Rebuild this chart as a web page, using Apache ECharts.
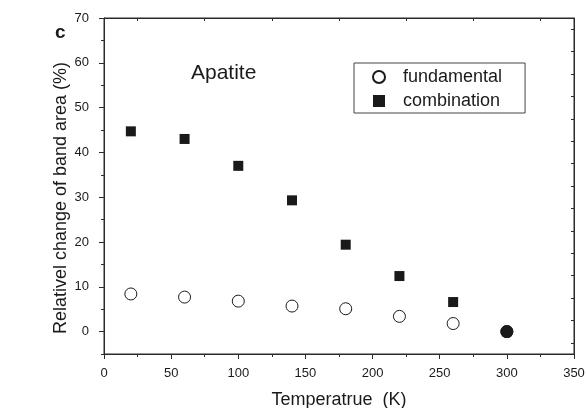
<!DOCTYPE html>
<html>
<head>
<meta charset="utf-8">
<script src="https://cdn.jsdelivr.net/npm/echarts@6/dist/echarts.min.js"></script>
<style>html,body{margin:0;padding:0;background:#fff}#c{width:586px;height:408px}</style>
</head>
<body>
<div id="c"></div>
<script>
var temperatures = [20, 60, 100, 140, 180, 220, 260, 300];
var fundamental = [8.4, 7.7, 6.8, 5.7, 5.1, 3.4, 1.8, 0];
var combination = [44.7, 43.0, 37.0, 29.3, 19.4, 12.4, 6.6, 0];
var yLabels = [0, 10, 20, 30, 40, 50, 60, 70];
var yMinor = [-5, 5, 15, 25, 35, 45, 55, 65];
var yRight = [-2.5, 2.5, 7.5, 12.5, 17.5, 22.5, 27.5, 32.5, 37.5, 42.5, 47.5, 52.5, 57.5, 62.5, 67.5];
var xTop = [25, 75, 125, 175, 225, 275, 325];

var ink = '#1a1a1a';
var axisCol = '#2a2a2a';
var font = 'Liberation Sans, Arial, sans-serif';

var chart = echarts.init(document.getElementById('c'));
chart.setOption({
  animation: false,
  backgroundColor: '#fff',
  textStyle: {fontFamily: font, color: ink},
  grid: {left: 104, right: 12, top: 18, bottom: 54, outerBoundsMode: 'none', containLabel: false,
         show: true, borderColor: axisCol, borderWidth: 1, backgroundColor: 'transparent'},
  graphic: [
    {type: 'text', left: 55, top: 23, style: {text: 'c', font: 'bold 19px ' + font, fill: ink}},
    {type: 'text', left: 191, top: 63, style: {text: 'Apatite', font: '21px ' + font, fill: ink}}
  ],
  legend: {
    orient: 'vertical', left: 354, top: 63,
    padding: [5, 23, 3, 18], itemGap: 6, itemWidth: 12, itemHeight: 12,
    borderColor: '#444', borderWidth: 1,
    textStyle: {fontSize: 18, fontFamily: font, color: ink, padding: [0, 0, 0, 13]},
    data: [
      {name: 'fundamental', icon: 'circle'},
      {name: 'combination', icon: 'rect'}
    ]
  },
  xAxis: [
    {
      type: 'value', position: 'bottom', min: 0, max: 350, interval: 50,
      name: 'Temperatrue  (K)', nameLocation: 'middle', nameGap: 37, nameMoveOverlap: false,
      nameTextStyle: {fontSize: 18, color: ink, fontFamily: font},
      axisLine: {show: true, onZero: false, lineStyle: {color: axisCol, width: 1}},
      axisTick: {show: true, length: 5, lineStyle: {color: axisCol}},
      minorTick: {show: true, splitNumber: 2, length: 3, lineStyle: {color: axisCol}},
      axisLabel: {fontSize: 13, color: ink, margin: 13, fontFamily: font},
      splitLine: {show: false}, minorSplitLine: {show: false}
    },
    {
      type: 'value', position: 'top', min: 0, max: 350, interval: 25,
      axisLine: {show: true, onZero: false, lineStyle: {color: axisCol, width: 1}},
      axisTick: {show: true, inside: true, length: 3, customValues: xTop, lineStyle: {color: axisCol}},
      axisLabel: {show: false}, splitLine: {show: false}
    }
  ],
  yAxis: [
    {
      type: 'value', position: 'left', min: -5, max: 70,
      name: 'Relativel change of band area (%)', nameLocation: 'middle', nameGap: 34, nameMoveOverlap: false,
      nameTextStyle: {fontSize: 18, color: ink, fontFamily: font, padding: [0, 24, 0, 0]},
      axisLine: {show: true, onZero: false, lineStyle: {color: axisCol, width: 1}},
      axisTick: {show: true, length: 5, customValues: yLabels, lineStyle: {color: axisCol}},
      axisLabel: {fontSize: 13, color: ink, margin: 15, customValues: yLabels, fontFamily: font},
      splitLine: {show: false}
    },
    {
      type: 'value', position: 'right', min: -5, max: 70, interval: 2.5,
      axisLine: {show: true, onZero: false, lineStyle: {color: axisCol, width: 1}},
      axisTick: {show: true, inside: true, length: 3, customValues: yRight, lineStyle: {color: axisCol}},
      axisLabel: {show: false}, splitLine: {show: false}
    },
    {
      type: 'value', position: 'left', min: -5, max: 70,
      axisLine: {show: false, onZero: false},
      axisTick: {show: true, length: 3, customValues: yMinor, lineStyle: {color: axisCol}},
      axisLabel: {show: false}, splitLine: {show: false}
    }
  ],
  series: [
    {
      name: 'fundamental', type: 'scatter', symbol: 'circle', symbolSize: 12,
      itemStyle: {color: '#fff', borderColor: ink, borderWidth: 1, opacity: 1},
      data: temperatures.map(function (t, i) { return [t, fundamental[i]]; })
    },
    {
      name: 'combination', type: 'scatter', symbol: 'rect', symbolSize: 10,
      itemStyle: {color: ink, opacity: 1},
      data: temperatures.map(function (t, i) {
        var d = {value: [t, combination[i]]};
        if (t === 300) { d.symbol = 'circle'; d.symbolSize = 13; }
        return d;
      })
    }
  ]
});
</script>
</body>
</html>
